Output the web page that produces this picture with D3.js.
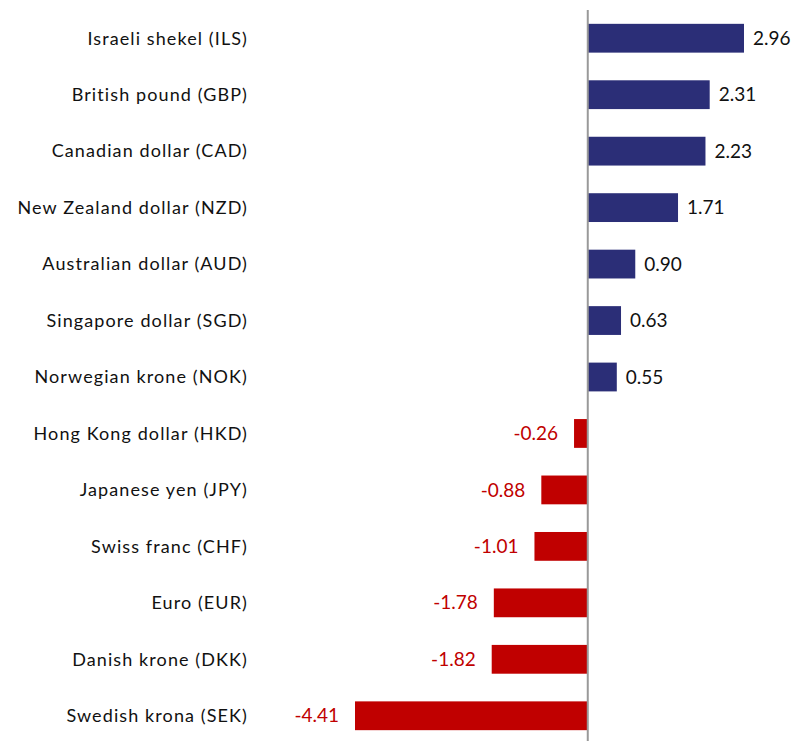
<!DOCTYPE html>
<html>
<head>
<meta charset="utf-8">
<script src="https://cdn.jsdelivr.net/npm/d3@7"></script>
<style>
  body { margin: 0; background: #fff; }
  text { font-family: Lato, "Open Sans", sans-serif; }
</style>
</head>
<body>
<script>
let categories = [
  'Israeli shekel (ILS)', 'British pound (GBP)', 'Canadian dollar (CAD)',
  'New Zealand dollar (NZD)', 'Australian dollar (AUD)', 'Singapore dollar (SGD)',
  'Norwegian krone (NOK)', 'Hong Kong dollar (HKD)', 'Japanese yen (JPY)',
  'Swiss franc (CHF)', 'Euro (EUR)', 'Danish krone (DKK)', 'Swedish krona (SEK)'
];
let values = [2.96, 2.31, 2.23, 1.71, 0.90, 0.63, 0.55, -0.26, -0.88, -1.01, -1.78, -1.82, -4.41];

let width = 795, height = 741;
let svg = d3.select('body').append('svg')
  .attr('width', width)
  .attr('height', height);

// zero at ~588, ~52.8px per unit
let x = d3.scaleLinear().domain([-4.41, 2.96]).range([355, 744]);
let y = d3.scaleBand().domain(categories).range([10, 744]).paddingInner(0.49).paddingOuter(0.245);

let data = categories.map((c, i) => ({name: c, value: values[i]}));

svg.append('g').selectAll('rect')
  .data(data)
  .join('rect')
  .attr('x', d => x(Math.min(0, d.value)))
  .attr('width', d => Math.abs(x(d.value) - x(0)))
  .attr('y', d => y(d.name))
  .attr('height', y.bandwidth())
  .attr('fill', d => d.value >= 0 ? '#2b2e77' : '#c00000');

// zero line
svg.append('line')
  .attr('x1', x(0)).attr('x2', x(0))
  .attr('y1', 10).attr('y2', height)
  .attr('stroke', '#999')
  .attr('stroke-width', 2);

// category labels
svg.append('g').selectAll('text')
  .data(data)
  .join('text')
  .attr('x', 248)
  .attr('y', d => y(d.name) + y.bandwidth() / 2)
  .attr('dy', '0.35em')
  .attr('text-anchor', 'end')
  .attr('font-size', 18)
  .attr('letter-spacing', 1.1)
  .attr('fill', '#111')
  .text(d => d.name);

// value labels
svg.append('g').selectAll('text')
  .data(data)
  .join('text')
  .attr('x', d => d.value >= 0 ? x(d.value) + 9 : x(d.value) - 16)
  .attr('y', d => y(d.name) + y.bandwidth() / 2)
  .attr('dy', '0.35em')
  .attr('text-anchor', d => d.value >= 0 ? 'start' : 'end')
  .attr('font-size', 19)
  .attr('fill', d => d.value >= 0 ? '#111' : '#c00000')
  .text(d => d.value.toFixed(2));
</script>
</body>
</html>
